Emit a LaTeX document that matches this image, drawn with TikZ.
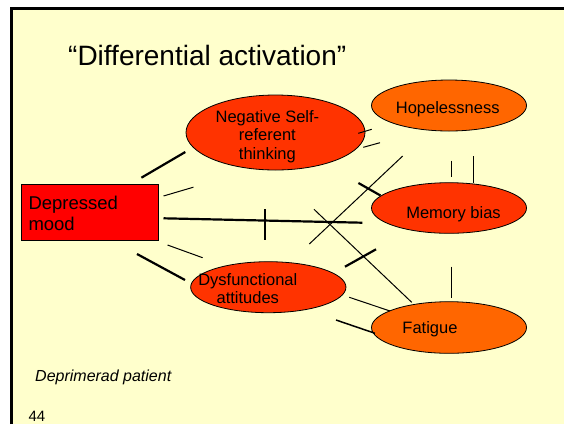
\documentclass[tikz,border=0pt]{standalone}
\usepackage{fontspec}
\setmainfont{Liberation Sans}
\usetikzlibrary{shapes.geometric}
\definecolor{slidebg}{HTML}{FFFFCC}
\definecolor{redorange}{HTML}{FF3300}
\definecolor{orangefill}{HTML}{FF6600}
\definecolor{moodred}{HTML}{FF0000}
\begin{document}
\begin{tikzpicture}[x=1pt,y=-1pt,
  ell/.style={ellipse, draw=black, line width=0.8pt, inner sep=0pt},
  thickln/.style={line width=2.2pt},
  medln/.style={line width=1.5pt},
  thinln/.style={line width=1pt},
  lbl/.style={inner sep=0pt, align=center, font=\fontsize{16.5}{18.5}\selectfont},
]
\useasboundingbox (0,0) rectangle (564,424);
\fill[white] (0,0) rectangle (564,424);
\fill[slidebg] (11,8.5) rectangle (564,424);
\draw[line width=3pt] (11.5,424) -- (11.5,8.5) -- (564,8.5);

% title
\node[anchor=base west, inner sep=0pt, font=\fontsize{28}{32}\selectfont] (title) at (68,65) {“Differential activation”};

% boxes
\node[draw=black, fill=moodred, line width=0.8pt, minimum width=137pt, minimum height=56pt, inner sep=0pt] (mood) at (90,212.2) {};
\node[anchor=west, inner sep=0pt, align=left, font=\fontsize{18.5}{20.7}\selectfont] (moodtxt) at (28.3,213.1) {Depressed\\mood};

\node[ell, fill=redorange, minimum width=179pt, minimum height=75pt] (neg) at (275.5,132.5) {};
\node[lbl] (negtxt) at (267.4,136.7) {Negative Self-\\referent\\thinking};

\node[ell, fill=orangefill, minimum width=155pt, minimum height=51pt] (hope) at (449,105.5) {};
\node[lbl] (hopetxt) at (447.7,109.2) {Hopelessness};

\node[ell, fill=redorange, minimum width=155pt, minimum height=50.6pt] (mem) at (449,208) {};
\node[lbl] (memtxt) at (453.5,214.2) {Memory bias};

\node[ell, fill=redorange, minimum width=155.3pt, minimum height=51pt] (dys) at (268.3,287.2) {};
\node[lbl, font=\fontsize{16.5}{17.5}\selectfont] (dystxt) at (247.8,288.8) {Dysfunctional\\attitudes};

\node[ell, fill=orangefill, minimum width=155pt, minimum height=51.6pt] (fat) at (449,327.5) {};
\node[lbl] (fattxt) at (430,329.2) {Fatigue};

% footer
\node[anchor=base west, inner sep=0pt, font=\fontsize{16}{18}\selectfont\itshape] (patient) at (35,381.7) {Deprimerad patient};
\node[anchor=base west, inner sep=0pt, font=\fontsize{15}{17}\selectfont] (pagenum) at (28.3,421.7) {44};

% connector end points
\coordinate (a1) at (141.4,177.7); \coordinate (b1) at (185.3,152);
\coordinate (a2) at (163.5,196);   \coordinate (b2) at (193.4,187.2);
\coordinate (a3) at (163.5,218.3); \coordinate (b3) at (362.3,222.7);
\coordinate (a4) at (265,209.3);   \coordinate (b4) at (265,240);
\coordinate (a5) at (167.5,245);   \coordinate (b5) at (202.6,257.7);
\coordinate (a6) at (137,254);     \coordinate (b6) at (185,280);
\coordinate (a7) at (358.3,133.3); \coordinate (b7) at (371.7,129.3);
\coordinate (a8) at (363.3,147.3); \coordinate (b8) at (380,142.7);
\coordinate (a9) at (309.3,244);   \coordinate (b9) at (402.7,156);
\coordinate (a10) at (358.4,183);  \coordinate (b10) at (380.5,195.5);
\coordinate (a11) at (314,209.3);  \coordinate (b11) at (411.7,302.3);
\coordinate (a12) at (345,266.7);  \coordinate (b12) at (376,249.3);
\coordinate (a13) at (349.3,297.3); \coordinate (b13) at (390,311);
\coordinate (a14) at (336,320);    \coordinate (b14) at (375,333.3);
\coordinate (a15) at (451,160.7);  \coordinate (b15) at (451,177.3);
\coordinate (a16) at (473.3,156);  \coordinate (b16) at (473.3,182.7);
\coordinate (a17) at (451,266.7);  \coordinate (b17) at (451,297.7);

\draw[thickln] (a1) -- (b1);
\draw[thinln] (a2) -- (b2);
\draw[thickln] (a3) -- (b3);
\draw[thickln] (a4) -- (b4);
\draw[thinln] (a5) -- (b5);
\draw[thickln] (a6) -- (b6);
\draw[thinln] (a7) -- (b7);
\draw[thinln] (a8) -- (b8);
\draw[thinln] (a9) -- (b9);
\draw[thickln] (a10) -- (b10);
\draw[thinln] (a11) -- (b11);
\draw[thickln] (a12) -- (b12);
\draw[thinln] (a13) -- (b13);
\draw[medln] (a14) -- (b14);
\draw[thinln] (a15) -- (b15);
\draw[thinln] (a16) -- (b16);
\draw[thinln] (a17) -- (b17);
\end{tikzpicture}
\end{document}
